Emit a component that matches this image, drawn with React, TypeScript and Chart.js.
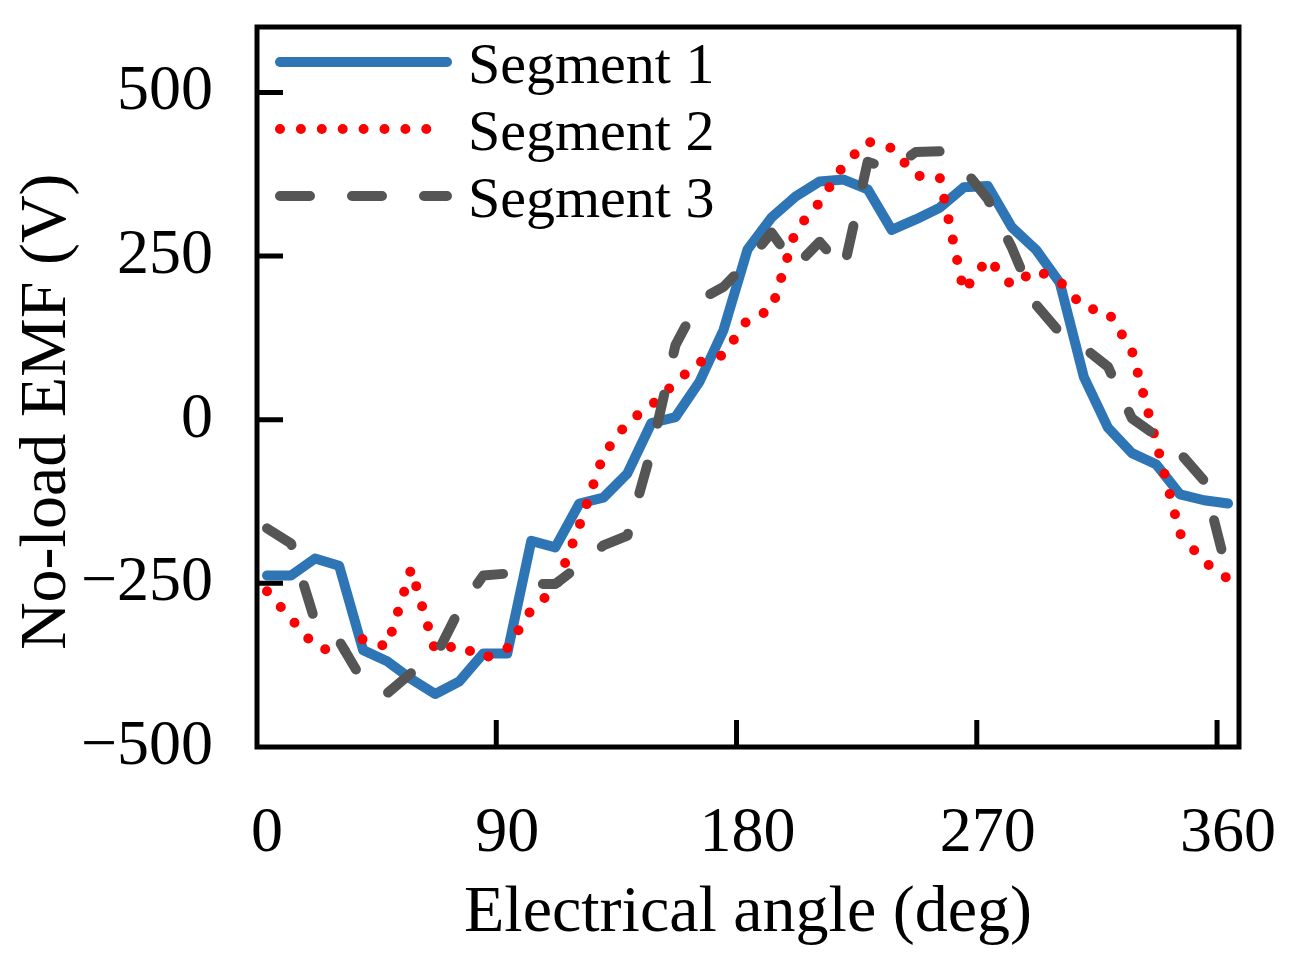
import { useEffect, useRef } from 'react';
import { Chart, registerables } from 'chart.js';

Chart.register(...registerables);

const angles = [
  0, 9, 18, 27, 36, 45, 54, 63, 72, 81, 90, 99, 108, 117, 126, 135, 144, 153, 162, 171,
  180, 189, 198, 207, 216, 225, 234, 243, 252, 261, 270, 279, 288, 297, 306, 315, 324,
  333, 342, 351, 360,
];
const segment1 = [
  -238, -238, -212, -223, -352, -369, -396, -419, -400, -357, -357, -185, -195, -128, -119,
  -82, -5, 4, 58, 137, 260, 309, 341, 364, 367, 352, 290, 306, 324, 355, 357, 294, 260,
  209, 65, -12, -51, -68, -114, -123, -128,
];
const segment2 = [
  -262, -304, -346, -357, -335, -347, -228, -353, -344, -365, -349, -290, -258, -162, -54,
  -4, 22, 57, 88, 99, 153, 168, 289, 332, 389, 425, 415, 373, 370, 196, 246, 205, 229,
  211, 171, 165, 105, -33, -174, -217, -243,
];
const segment3 = [
  -166, -189, -308, -338, -400, -418, -387, -363, -290, -238, -235, -251, -251, -223, -192,
  -177, -47, 114, 183, 203, 241, 286, 234, 272, 229, 394, 383, 409, 410, 383, 337, 263,
  176, 133, 110, 81, 2, -24, -51, -93, -238,
];
const seriesNames = ['Segment 1', 'Segment 2', 'Segment 3'];
const xTickValues = [0, 90, 180, 270, 360];
const yTickValues = [-500, -250, 0, 250, 500];

const SERIF = '"Liberation Serif", "Times New Roman", serif';

// frame, inner tick marks and the legend inside the plot
const frameLegend = {
  id: 'frameLegend',
  afterDatasetsDraw(chart: any) {
    const { ctx, chartArea, scales } = chart;
    const { left, top, right, bottom } = chartArea;
    ctx.save();
    ctx.strokeStyle = '#000';
    ctx.lineWidth = 5;
    ctx.strokeRect(left, top, right - left, bottom - top);
    ctx.beginPath();
    yTickValues.forEach((v) => {
      if (v <= -500) return;
      const y = scales.y.getPixelForValue(v);
      ctx.moveTo(left, y);
      ctx.lineTo(left + 26, y);
    });
    xTickValues.forEach((v) => {
      if (v === 0) return;
      const x = scales.x.getPixelForValue(v) - 11;
      ctx.moveTo(x, bottom);
      ctx.lineTo(x, bottom - 27);
    });
    ctx.stroke();

    chart.data.datasets.forEach((ds: any, i: number) => {
      const y = top + 35 + i * 67;
      ctx.save();
      ctx.strokeStyle = ds.borderColor;
      ctx.lineWidth = ds.borderWidth;
      ctx.lineCap = 'round';
      ctx.setLineDash(ds.borderDash || []);
      ctx.beginPath();
      ctx.moveTo(left + 23, y);
      ctx.lineTo(left + 190, y);
      ctx.stroke();
      ctx.restore();
      ctx.fillStyle = '#000';
      ctx.font = `58px ${SERIF}`;
      ctx.textAlign = 'left';
      ctx.textBaseline = 'alphabetic';
      ctx.fillText(ds.label, left + 211, y + 21);
    });
    ctx.restore();
  },
};

const noOverflow = (scale: any) => {
  scale.paddingTop = 0;
  scale.paddingBottom = 0;
  scale.paddingLeft = 0;
  scale.paddingRight = 0;
};

function EmfChart() {
  const canvasRef = useRef<HTMLCanvasElement>(null);
  const chartRef = useRef<Chart | null>(null);

  useEffect(() => {
    if (!canvasRef.current) return;
    const ctx = canvasRef.current.getContext('2d');
    if (!ctx) return;
    if (chartRef.current) chartRef.current.destroy();

    const toPoints = (vals: number[]) => vals.map((v, i) => ({ x: angles[i], y: v }));

    chartRef.current = new Chart(ctx, {
      type: 'line',
      data: {
        datasets: [
          {
            label: seriesNames[0],
            data: toPoints(segment1),
            borderColor: '#2E75B6',
            borderWidth: 10,
            borderJoinStyle: 'round',
            borderCapStyle: 'round',
            pointRadius: 0,
            order: 3,
          },
          {
            label: seriesNames[1],
            data: toPoints(segment2),
            borderColor: '#FF0000',
            borderWidth: 10,
            borderDash: [0, 20.9],
            borderCapStyle: 'round',
            borderJoinStyle: 'round',
            pointRadius: 0,
            order: 2,
          },
          {
            label: seriesNames[2],
            data: toPoints(segment3),
            borderColor: '#555555',
            borderWidth: 10,
            borderDash: [30, 42],
            borderCapStyle: 'round',
            borderJoinStyle: 'round',
            pointRadius: 0,
            order: 1,
          },
        ],
      },
      options: {
        responsive: true,
        maintainAspectRatio: false,
        animation: false,
        layout: { padding: { left: 0, top: 27, right: 62, bottom: 0 } },
        plugins: {
          legend: { display: false },
          tooltip: { enabled: false },
        },
        scales: {
          x: {
            type: 'linear',
            min: -3.75,
            max: 364.1,
            grid: { display: false, drawTicks: false },
            border: { display: false },
            afterBuildTicks: (scale: any) => {
              scale.ticks = xTickValues.map((v) => ({ value: v }));
            },
            afterFit: (scale: any) => {
              scale.height = 228;
              noOverflow(scale);
            },
            ticks: {
              padding: 49,
              maxRotation: 0,
              autoSkip: false,
              color: '#000',
              font: { family: SERIF, size: 64 },
            },
            title: {
              display: true,
              text: 'Electrical angle (deg)',
              color: '#000',
              font: { family: SERIF, size: 66 },
              padding: { top: 0, bottom: 22 },
            },
          },
          y: {
            min: -500,
            max: 600,
            grid: { display: false, drawTicks: false },
            border: { display: false },
            afterBuildTicks: (scale: any) => {
              scale.ticks = yTickValues.map((v) => ({ value: v }));
            },
            afterFit: (scale: any) => {
              scale.width = 257;
              noOverflow(scale);
            },
            ticks: {
              padding: 44,
              color: '#000',
              font: { family: SERIF, size: 64 },
              callback: (v: any) => String(v).replace('-', '\u2212'),
            },
            title: {
              display: true,
              text: 'No-load EMF (V)   ',
              color: '#000',
              font: { family: SERIF, size: 66 },
              padding: { top: 8, bottom: 0 },
            },
          },
        },
      },
      plugins: [frameLegend],
    });

    return () => {
      if (chartRef.current) {
        chartRef.current.destroy();
        chartRef.current = null;
      }
    };
  }, []);

  return <canvas ref={canvasRef} style={{ width: '100%', height: '100%' }} />;
}

export default function App() {
  return (
    <div style={{ position: 'absolute', left: 0, top: 0, width: 1301, height: 975, background: '#fff' }}>
      <EmfChart />
    </div>
  );
}
